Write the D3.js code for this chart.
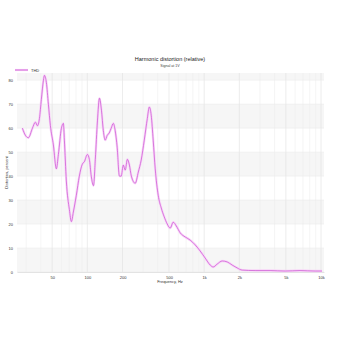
<!DOCTYPE html>
<html><head><meta charset="utf-8">
<script src="https://cdn.jsdelivr.net/npm/d3@7"></script>
<style>body{margin:0;background:#fff}svg{display:block}text{font-family:"Liberation Sans",Arial,sans-serif}</style>
</head><body><svg id="c" width="340" height="340"></svg>
<script>
const title = "Harmonic distortion (relative)";
const subtitle = "Signal at 1V";
const seriesName = "THD";
const xLabel = "Frequency, Hz";
const yLabel = "Distortion, percent";
const freqs = [27.8,29.5,31.3,33.9,35.9,37.4,38.9,40.4,42.1,42.9,44.6,46.4,48.3,51.2,54.3,56.5,60.0,62.4,63.6,66.1,70.2,73.0,75.9,80.5,85.4,90.6,94.3,100,104,108,113,117,122,127,132,137,142,148,154,160,167,173,180,188,195,203,211,220,229,238,257,273,289,307,326,339,352,366,381,404,429,455,483,512,543,577,624,688,759,838,924,1020,1126,1194,1292,1425,1573,1735,1915,2112,2729,3665,4924,6615,8884,10197];
const thd = [60,57,56,60,62.5,61,64,72,80,82,79,70,61,53,43,49,60,62,55,38,26,21,25,32,40,45,46,49,47,40,36,47,63,72.5,67.5,59,55,57,58,60,62,59,52,40,40,44.6,42.5,47,44.6,40,37,41.7,46.7,55,64,68.8,65.4,55,43,32,26.7,23,20,18.3,20.8,19.2,16.3,14.6,13.3,11.3,8.75,5.8,2.9,2.1,3.3,4.6,4.2,2.9,1.7,0.8,0.6,0.6,0.4,0.6,0.4,0.4];
const xTicks = [50,100,200,500,1000,2000,5000,10000];
const xTickLabels = ["50","100","200","500","1k","2k","5k","10k"];
const yTicks = [0,10,20,30,40,50,60,70,80];

const svg = d3.select("#c");
const L=17,R=324,T=73,B=272;
const x = d3.scaleLog().domain([25,10600]).range([L,R]);
const y = d3.scaleLinear().domain([0,83]).range([B,T]);

for(let i=0;i<yTicks.length;i++){
  if(i%2===0){
    const y0=yTicks[i], y1=Math.min(yTicks[i]+10,83);
    svg.append("rect").attr("x",L).attr("width",R-L).attr("y",y(y1)).attr("height",y(y0)-y(y1)).attr("fill","#f6f6f6");
  }
}
const minor=[];
for(let d=10;d<=10000;d*=10){for(let m=1;m<10;m++){const v=d*m;if(v>=25&&v<=10600)minor.push(v);}}
svg.append("g").selectAll("line").data(minor).join("line")
 .attr("x1",d=>x(d)).attr("x2",d=>x(d)).attr("y1",T).attr("y2",B)
 .attr("stroke",d=>xTicks.includes(d)?"#e0e0e0":"#eeeeee").attr("stroke-width",0.6);
svg.append("g").selectAll("line").data(yTicks).join("line")
 .attr("x1",L).attr("x2",R).attr("y1",d=>y(d)).attr("y2",d=>y(d)).attr("stroke","#e8e8e8").attr("stroke-width",0.5);

const xa = d3.axisBottom(x).tickValues(xTicks).tickFormat((d,i)=>xTickLabels[i]).tickSize(0).tickPadding(4);
const gx = svg.append("g").attr("transform",`translate(0,${B})`).call(xa);
gx.select(".domain").attr("stroke","#ccc").attr("stroke-width",0.5);
gx.selectAll("text").attr("font-size",4).attr("fill","#333");
const ya = d3.axisLeft(y).tickValues(yTicks).tickSize(0).tickPadding(4);
const gy = svg.append("g").attr("transform",`translate(${L},0)`).call(ya);
gy.select(".domain").remove();
gy.selectAll("text").attr("font-size",4).attr("fill","#333");

const data = freqs.map((f,i)=>({f,v:thd[i]}));
const line = d3.line().x(d=>x(d.f)).y(d=>y(d.v)).curve(d3.curveMonotoneX);
svg.append("path").datum(data).attr("d",line).attr("fill","none").attr("stroke","#f8d4f8").attr("stroke-width",2.4);
svg.append("path").datum(data).attr("d",line).attr("fill","none").attr("stroke","#c84fd0").attr("stroke-width",0.7);

svg.append("text").attr("x",170).attr("y",61).attr("text-anchor","middle").attr("font-size",5.5).attr("fill","#222").text(title);
svg.append("text").attr("x",170).attr("y",67).attr("text-anchor","middle").attr("font-size",3.6).attr("fill","#444").text(subtitle);
svg.append("text").attr("x",170).attr("y",283).attr("text-anchor","middle").attr("font-size",4).attr("fill","#333").text(xLabel);
svg.append("text").attr("transform",`translate(8,${(T+B)/2}) rotate(-90)`).attr("text-anchor","middle").attr("font-size",4).attr("fill","#333").text(yLabel);

svg.append("line").attr("x1",15).attr("x2",28).attr("y1",70).attr("y2",70).attr("stroke","#f8d4f8").attr("stroke-width",2.2);
svg.append("line").attr("x1",15).attr("x2",28).attr("y1",70).attr("y2",70).attr("stroke","#c84fd0").attr("stroke-width",0.8);
svg.append("text").attr("x",31).attr("y",71.5).attr("font-size",4).attr("fill","#333").text(seriesName);
</script></body></html>
